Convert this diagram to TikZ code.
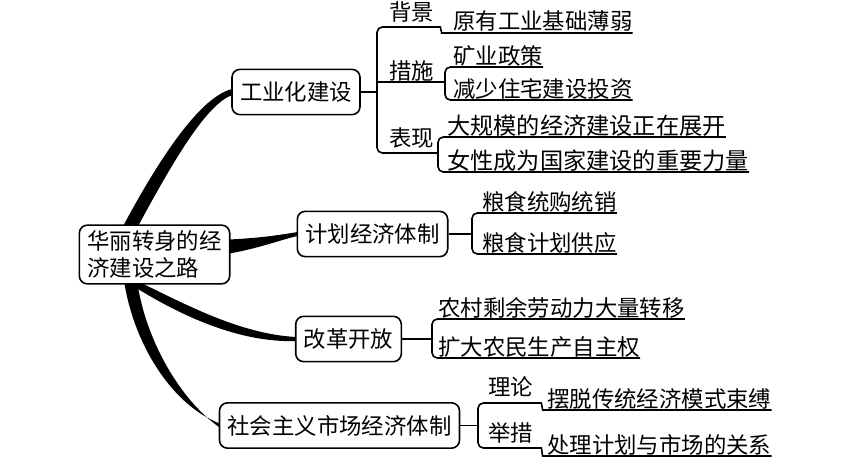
\documentclass[tikz,border=0pt]{standalone}
\usepackage{fontspec}
\newfontfamily\cjk{Noto Sans CJK SC}
\usetikzlibrary{calc,backgrounds}
\tikzset{
  box/.style={draw, fill=white, rounded corners=6pt, line width=1.2pt, inner xsep=6pt, inner ysep=0pt, minimum height=34pt},
  lbl/.style={anchor=base west, inner sep=0pt},
  leaf/.style={anchor=base west, inner sep=0pt},
  wide/.style={font=\cjk\fontsize{17.4}{20}\selectfont},
  twig/.style={line width=1.2pt, rounded corners=4pt},
  branch/.style={fill=black},
}

\begin{document}
\begin{tikzpicture}[x=0.75pt, y=-0.75pt, font=\cjk\fontsize{16.8}{20.25}\selectfont]
\useasboundingbox (0,0) rectangle (854,464);

% centre and first level
\node[box, align=left, minimum height=44pt] (root) at (154.5,254.5) {华丽转身的经\\济建设之路};
\node[box] (ind) at (296,92) {工业化建设};
\node[box] (plan) at (372.5,234) {计划经济体制};
\node[box] (reform) at (348.5,339) {改革开放};
\node[box] (market) at (339.5,425.5) {社会主义市场经济体制};

% tapered branches
\begin{scope}[on background layer]
  \fill[branch] ($(root.north)+(-31,1)$) .. controls (165,148) and (203,96) .. ($(ind.west)+(1,-3)$)
    -- ($(ind.west)+(1,3)$) .. controls (208,104) and (178,152) .. ($(root.north)+(-16,1)$) -- cycle;
  \fill[branch] ($(root.east)+(-1,-15)$) .. controls (260,238) and (280,235) .. ($(plan.west)+(1,-2)$)
    -- ($(plan.west)+(1,2)$) .. controls (280,240) and (260,248) .. ($(root.east)+(-1,-1)$) -- cycle;
  \fill[branch] ($(root.south)+(-12,-1)$) .. controls (185,304) and (240,334) .. ($(reform.west)+(1,-2)$)
    -- ($(reform.west)+(1,2)$) .. controls (240,343) and (180,316) .. ($(root.south)+(-25,-1)$) -- cycle;
  \fill[branch] ($(root.south)+(-30,-1)$) .. controls (134,342) and (170,404) .. ($(market.west)+(1,-2)$)
    -- ($(market.west)+(1,2)$) .. controls (180,400) and (146,340) .. ($(root.south)+(-17,-1)$) -- cycle;
\end{scope}

% 工业化建设
\coordinate (indhub) at (377,92);
\node[lbl] (bj) at (389,21) {背景};
\node[lbl] (cs) at (389,79) {措施};
\node[lbl] (bx) at (389,146) {表现};
\node[leaf] (ind1) at (453,30) {原有工业基础薄弱};
\node[leaf] (ind2) at (453,64) {矿业政策};
\node[leaf] (ind3) at (453,97) {减少住宅建设投资};
\node[leaf, wide] (ind4) at (447,134) {大规模的经济建设正在展开};
\node[leaf, wide] (ind5) at (447,169) {女性成为国家建设的重要力量};
\draw[twig] (ind) -- (indhub);
\draw[twig] ($(ind1.base east)+(0,3)$) -- (447,33) to[out=180,in=0] (435,27) -- (377,27) -- (377,153) -- (438,153);
\draw[twig] (377,82) -- (445,82);
\draw[twig] ($(ind2.base east)+(0,3)$) -- (445,67) -- (445,100) -- ($(ind3.base east)+(0,3)$);
\draw[twig] ($(ind4.base east)+(0,3)$) -- (438,137) -- (438,172) -- ($(ind5.base east)+(0,3)$);

% 计划经济体制
\coordinate (planhub) at (472,234);
\node[leaf] (pl1) at (482,210) {粮食统购统销};
\node[leaf] (pl2) at (482,251) {粮食计划供应};
\draw[twig] (plan) -- (planhub);
\draw[twig] ($(pl1.base east)+(0,3)$) -- (472,213) -- (472,254) -- ($(pl2.base east)+(0,3)$);

% 改革开放
\coordinate (refhub) at (432,339);
\node[leaf] (rf1) at (438,316) {农村剩余劳动力大量转移};
\node[leaf] (rf2) at (438,355) {扩大农民生产自主权};
\draw[twig] (reform) -- (refhub);
\draw[twig] ($(rf1.base east)+(0,3)$) -- (432,319) -- (432,358) -- ($(rf2.base east)+(0,3)$);

% 社会主义市场经济体制
\coordinate (mkhub) at (478,425.5);
\node[lbl] (ll) at (488,395) {理论};
\node[lbl] (jc) at (488,441) {举措};
\node[leaf] (mk1) at (547,407) {摆脱传统经济模式束缚};
\node[leaf] (mk2) at (547,453) {处理计划与市场的关系};
\draw[twig] (market) -- (mkhub);
\draw[twig] ($(mk1.base east)+(0,3)$) -- (548,410) to[out=180,in=0] (536,403) -- (478,403)
  -- (478,448) -- (536,448) to[out=0,in=180] (548,456) -- ($(mk2.base east)+(0,3)$);
\end{tikzpicture}
\end{document}
